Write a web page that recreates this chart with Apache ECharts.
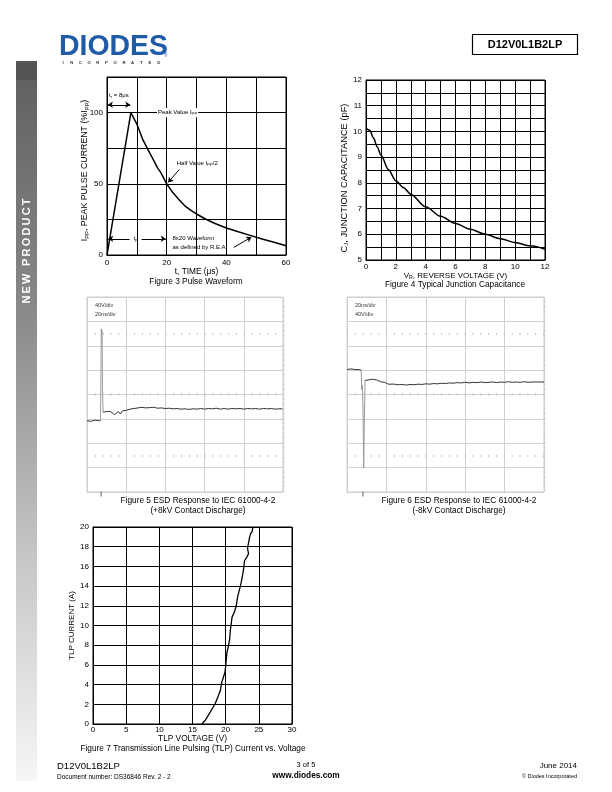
<!DOCTYPE html>
<html><head><meta charset="utf-8">
<script src="https://cdn.jsdelivr.net/npm/echarts@6/dist/echarts.min.js"></script>
<style>html,body{margin:0;padding:0;background:#fff}#c{width:612px;height:792px}</style>
</head><body><div id="c"></div>
<script>
// ---------- Figure 3: pulse waveform ----------
const pulseTime    = [0, 8, 9, 10, 11, 12, 13, 14, 15, 16, 17, 18, 19, 20, 22, 24, 26, 28, 30, 33, 36, 40, 44, 48, 52, 56, 60];
const pulseCurrent = [0, 100, 96, 92, 86.5, 81, 77, 73, 69, 65, 61, 58, 54, 50, 44, 39.2, 34.7, 31.5, 28.8, 25.3, 22.3, 19, 16.3, 13.8, 11.3, 9, 6.5];
const pulseXTicks  = [0, 20, 40, 60];
const pulseYTicks  = [0, 50, 100];
// ---------- Figure 4: junction capacitance ----------
const capVoltage = [0, 0.25, 0.5, 0.75, 1, 1.5, 2, 2.5, 3, 4, 5, 6, 7, 8, 9, 10, 11, 12];
const capValue   = [10.12, 10.05, 9.75, 9.4, 9.08, 8.52, 8.08, 7.82, 7.56, 7.07, 6.7, 6.42, 6.2, 6.0, 5.83, 5.68, 5.55, 5.42];
// ---------- Figure 5: ESD +8kV (ns, V) ----------
const esd5BaseT  = [0, 1, 2, 3, 4, 5, 6, 6.9];
const esd5BaseV  = [-3, -2, -4, -3, -2, -4, -3, -3];
const esd5SpikeT = [6.9, 7.1, 7.3, 7.5, 7.7, 7.9, 8.2];
const esd5SpikeV = [-3, 70, 148, 138, 145, 50, 11];
const esd5TailT  = [8.2, 9, 10, 11, 12, 13, 14, 15, 16, 17, 18, 19, 20, 21, 22, 23, 24, 25, 26, 27, 28,
  30, 32, 34, 36, 38, 40, 42, 44, 46, 48, 50, 52, 54, 56, 58, 60, 62, 64, 66, 68, 70, 72, 74, 76, 78, 80, 82, 84, 86, 88, 90, 92, 94, 96, 98, 100];
const esd5TailV  = [11, 13, 12, 9, 12, 9, 7, 10, 12, 8, 13, 11, 14, 13, 16, 14, 17, 16, 18, 17, 19,
  18, 18.5, 19, 17.5, 18, 17, 17.5, 16.5, 17, 16, 16.5, 15.5, 16.5, 16, 17, 16, 17, 16.5, 17.5, 16, 17, 16, 17, 16.5, 17, 16, 17, 16.5, 17, 16, 17, 16.5, 17, 16, 16.5, 16.5];
// ---------- Figure 6: ESD -8kV (ns, V) ----------
const esd6BaseT  = [0, 1, 2, 3, 4, 5, 6, 7.2];
const esd6BaseV  = [1, 0, 2, 0, 1, -1, 1, 0];
const esd6SpikeT = [7.2, 7.5, 7.8, 8.1, 8.5, 8.8, 9.2];
const esd6SpikeV = [0, -32, -25, -60, -160, -80, -17];
const esd6TailT  = [9.2, 10, 11, 12, 13, 14, 15, 16, 17, 18, 19, 20, 21, 22,
  24, 26, 28, 30, 32, 34, 36, 38, 40, 42, 44, 46, 48, 50, 52, 54, 56, 58, 60, 62, 64, 66, 68, 70, 72, 74, 76, 78, 80, 82, 84, 86, 88, 90, 92, 94, 96, 98, 100];
const esd6TailV  = [-17, -15, -16, -13, -15, -14, -16, -18, -19, -21, -20, -22, -23, -23.5,
  -23, -24, -23.5, -24.5, -23.5, -24, -23, -23.5, -22.5, -23, -22, -22.5, -21.5, -22, -21, -21.5, -20.5, -21, -20, -21,
  -20, -20.5, -19.5, -20.5, -20, -19.5, -20.5, -19.5, -20, -19, -20, -19.5, -20, -19, -20, -19.5, -19.5, -19.5, -19.5];
// ---------- Figure 7: TLP ----------
const tlpVoltage = [16.4, 16.9, 17.4, 18.1, 18.4, 18.8, 19.2, 19.4, 19.7, 19.9, 20.0, 20.1, 20.2, 20.45, 20.6, 20.7, 20.86, 20.96, 21.3, 21.6,
  21.8, 22.1, 22.3, 22.5, 22.7, 22.85, 23.2, 23.45, 23.3, 23.45, 23.6, 23.75, 24.0, 23.7, 24.1];
const tlpCurrent = [0, 0.35, 0.9, 1.7, 2.05, 2.7, 3.4, 4.2, 4.85, 5.25, 5.9, 6.6, 7.3, 8.0, 8.6, 9.5, 10.3, 10.85, 11.35, 12.0,
  12.9, 13.7, 14.25, 14.9, 15.75, 16.6, 16.95, 17.3, 17.8, 18.4, 18.95, 19.3, 19.55, 19.75, 20];

const FONT = "'Liberation Sans', Arial, Helvetica, sans-serif";
const zip = (a, b) => a.map((v, i) => [v, b[i]]);
const richSub = (fs) => ({
  a: {fontSize: fs, fontFamily: FONT, color: '#000'},
  s: {fontSize: fs * 0.65, fontFamily: FONT, color: '#000', padding: [fs * 0.45, 0, 0, 0]}
});

function blackX(grid, min, max, interval, labels, name, gap, nameSize, margin) {
  return {type: 'value', gridIndex: grid, min, max, interval,
    axisLine: {show: true, lineStyle: {color: '#000', width: 1}}, axisTick: {show: false},
    axisLabel: {color: '#000', fontSize: 8, fontFamily: FONT, margin: margin || 4,
      formatter: v => labels.indexOf(v) >= 0 ? String(v) : ''},
    splitLine: {show: true, lineStyle: {color: '#000', width: 1}},
    name, nameLocation: 'middle', nameGap: gap,
    nameTextStyle: {color: '#000', fontSize: nameSize, fontFamily: FONT, rich: richSub(nameSize)}};
}
function blackY(grid, min, max, interval, labels, name, gap, nameSize, shift) {
  return {type: 'value', gridIndex: grid, min, max, interval,
    axisLine: {show: true, lineStyle: {color: '#000', width: 1}}, axisTick: {show: false},
    axisLabel: {color: '#000', fontSize: 8, fontFamily: FONT, margin: 4,
      formatter: v => labels.indexOf(v) >= 0 ? String(v) : ''},
    splitLine: {show: true, lineStyle: {color: '#000', width: 1}},
    name, nameLocation: 'middle', nameGap: gap, nameMoveOverlap: false,
    nameTextStyle: {color: '#000', fontSize: nameSize, fontFamily: FONT, rich: richSub(nameSize),
      padding: [0, shift || 0, 0, 0]}};
}
function scopeX(grid) {
  return {type: 'value', gridIndex: grid, min: 0, max: 100, interval: 20,
    axisLine: {show: false}, axisTick: {show: false}, axisLabel: {show: false},
    splitLine: {show: true, lineStyle: {color: '#cfcfcf', width: 1}}};
}
function scopeY(grid, min, max) {
  return {type: 'value', gridIndex: grid, min, max, interval: 40,
    axisLine: {show: false}, axisTick: {show: false}, axisLabel: {show: false},
    splitLine: {show: true, lineStyle: {color: '#cfcfcf', width: 1}}};
}
function graticule(minY, maxY, centerY, trigT) {
  return {
    markLine: {silent: true, animation: false, symbol: ['none', 'none'], label: {show: false},
      lineStyle: {color: '#c2c2c2', width: 2, type: [1, 6.84]},
      data: [
        [{coord: [0, maxY - 60]}, {coord: [100, maxY - 60]}],
        [{coord: [0, minY + 60]}, {coord: [100, minY + 60]}],
        [{coord: [0, centerY], lineStyle: {color: '#cccccc', width: 3, type: [1, 6.84]}}, {coord: [100, centerY]}],
        [{coord: [100, minY], lineStyle: {color: '#d6d6d6', width: 3, type: [1, 3.87]}}, {coord: [100, maxY]}]
      ]},
    markPoint: {silent: true, animation: false, symbol: 'rect', symbolSize: [1, 5], symbolOffset: [0, 2],
      itemStyle: {color: '#666'}, label: {show: false},
      data: [{coord: [trigT, minY]}]}
  };
}
const lbl = (coord, text, pos, bg) => ({coord, symbol: 'rect', symbolSize: 1,
  itemStyle: {color: 'rgba(0,0,0,0)'},
  label: {show: true, position: pos || 'right', distance: 0, formatter: text, color: '#000',
    fontSize: 6, fontFamily: FONT, lineHeight: 9.4, backgroundColor: bg || 'transparent', padding: bg ? [0, 1, 0, 1] : 0,
    rich: {a: {fontSize: 6, fontFamily: FONT, color: '#000'}, s: {fontSize: 4.2, fontFamily: FONT, color: '#000', padding: [3, 0, 0, 0]}}}});

const option = {
  backgroundColor: '#fff',
  animation: false,
  textStyle: {fontFamily: FONT},
  grid: [
    {left: 107, top: 77, width: 179, height: 178, show: true, borderColor: '#000', borderWidth: 1},
    {left: 366, top: 80, width: 179, height: 180, show: true, borderColor: '#000', borderWidth: 1},
    {left: 87, top: 297, width: 196, height: 195, show: true, borderColor: '#cfcfcf', borderWidth: 1},
    {left: 347, top: 297, width: 197, height: 195, show: true, borderColor: '#cfcfcf', borderWidth: 1},
    {left: 93, top: 527, width: 199, height: 197, show: true, borderColor: '#000', borderWidth: 1}
  ],
  xAxis: [
    blackX(0, 0, 60, 10, pulseXTicks, 't, TIME (μs)', 13, 8.3),
    blackX(1, 0, 12, 1, [0, 2, 4, 6, 8, 10, 12], '{a|V}{s|R}{a|, REVERSE VOLTAGE (V)}', 8, 8, 3),
    scopeX(2), scopeX(3),
    blackX(4, 0, 30, 5, [0, 5, 10, 15, 20, 25, 30], 'TLP VOLTAGE (V)', 9.5, 8.3, 2)
  ],
  yAxis: [
    blackY(0, 0, 125, 25, pulseYTicks, '{a|I}{s|PP}{a|, PEAK PULSE CURRENT (%I}{s|PP}{a|)}', 17, 8.8, 9),
    blackY(1, 5, 12, 0.5, [5, 6, 7, 8, 9, 10, 11, 12], '{a|C}{s|J}{a|, JUNCTION CAPACITANCE (pF)}', 16.5, 9.3, 16),
    scopeY(2, -120, 200), scopeY(3, -200, 120),
    blackY(4, 0, 20, 2, [0, 2, 4, 6, 8, 10, 12, 14, 16, 18, 20], 'TLP CURRENT (A)', 17, 8, 0)
  ],
  series: [
    {type: 'line', xAxisIndex: 0, yAxisIndex: 0, data: zip(pulseTime, pulseCurrent), symbol: 'none',
      lineStyle: {color: '#000', width: 1.5},
      markLine: {silent: true, animation: false, symbol: ['none', 'none'], symbolSize: 5, label: {show: false},
        lineStyle: {color: '#000', width: 1, type: 'solid'},
        data: [
          [{coord: [0.3, 105.5], symbol: 'arrow'}, {coord: [7.8, 105.5], symbol: 'arrow'}],
          [{coord: [8, 100]}, {coord: [16.2, 100]}],
          [{coord: [24.2, 60]}, {coord: [20.5, 51], symbol: 'arrow'}],
          [{coord: [0.4, 11.4], symbol: 'arrow'}, {coord: [7.6, 11.4]}],
          [{coord: [11.6, 11.4]}, {coord: [19.7, 11.4], symbol: 'arrow'}],
          [{coord: [42.5, 5.3], lineStyle: {curveness: 0.35}}, {coord: [48.4, 12.6], symbol: 'arrow'}]
        ]},
      markPoint: {silent: true, animation: false,
        data: [
          lbl([0.5, 112], '{a|t}{s|r}{a| = 8μs}'),
          lbl([16.6, 100], '{a|Peak Value I}{s|PP}', 'right', '#fff'),
          lbl([23.2, 64.5], '{a|Half Value I}{s|PP}{a|/2}'),
          lbl([9.6, 11.4], '{a|t}{s|p}', 'inside'),
          lbl([21.8, 8.5], '8x20 Waveform\nas defined by R.E.A.')
        ]}},
    {type: 'line', xAxisIndex: 1, yAxisIndex: 1, data: zip(capVoltage, capValue), symbol: 'none', smooth: 0.3, smoothMonotone: 'x',
      lineStyle: {color: '#000', width: 1.5}},
    Object.assign({type: 'line', xAxisIndex: 2, yAxisIndex: 2, data: zip(esd5BaseT, esd5BaseV), symbol: 'none',
      lineStyle: {color: '#333', width: 1}}, graticule(-120, 200, 40, 7.2)),
    {type: 'line', xAxisIndex: 2, yAxisIndex: 2, data: zip(esd5SpikeT, esd5SpikeV), symbol: 'none',
      lineStyle: {color: '#9a9a9a', width: 1}},
    {type: 'line', xAxisIndex: 2, yAxisIndex: 2, data: zip(esd5TailT, esd5TailV), symbol: 'none',
      lineStyle: {color: '#333', width: 1}},
    Object.assign({type: 'line', xAxisIndex: 3, yAxisIndex: 3, data: zip(esd6BaseT, esd6BaseV), symbol: 'none',
      lineStyle: {color: '#333', width: 1}}, graticule(-200, 120, -40, 8.1)),
    {type: 'line', xAxisIndex: 3, yAxisIndex: 3, data: zip(esd6SpikeT, esd6SpikeV), symbol: 'none',
      lineStyle: {color: '#9a9a9a', width: 1}},
    {type: 'line', xAxisIndex: 3, yAxisIndex: 3, data: zip(esd6TailT, esd6TailV), symbol: 'none',
      lineStyle: {color: '#333', width: 1}},
    {type: 'line', xAxisIndex: 4, yAxisIndex: 4, data: zip(tlpVoltage, tlpCurrent), symbol: 'none',
      lineStyle: {color: '#000', width: 1.3}}
  ],
  graphic: []
};

const G = option.graphic;
function txt(x, y, text, size, opts) {
  opts = opts || {};
  G.push({type: 'text', x, y, rotation: opts.rot || 0, silent: true,
    style: {text, fill: opts.color || '#000', font: (opts.weight || 'normal') + ' ' + size + 'px ' + FONT,
      fontSize: size, fontFamily: FONT, fontWeight: opts.weight || 'normal',
      align: opts.align || 'left', textAlign: opts.align || 'left',
      verticalAlign: 'middle', textVerticalAlign: 'middle'}});
}
// sidebar
G.push({type: 'rect', silent: true, shape: {x: 16, y: 61, width: 21, height: 720},
  style: {fill: new echarts.graphic.LinearGradient(0, 0, 0, 1, [
    {offset: 0, color: '#5e5e5e'}, {offset: 0.35, color: '#8a8a8a'}, {offset: 0.7, color: '#c8c8c8'}, {offset: 1, color: '#f6f6f6'}])}});
G.push({type: 'rect', silent: true, shape: {x: 16, y: 61, width: 21, height: 19}, style: {fill: '#555'}});
txt(27, 251, 'N\u2009E\u2009W\u2009 \u2009P\u2009R\u2009O\u2009D\u2009U\u2009C\u2009T', 11, {rot: Math.PI / 2, align: 'center', weight: 'bold', color: '#fff'});
// logo
G.push({type: 'text', x: 59, y: 47, scaleX: 0.98, silent: true,
  style: {text: 'DIODES', fill: '#1f5ba6', font: 'bold 29px ' + FONT, fontSize: 29, fontWeight: 'bold', fontFamily: FONT,
    align: 'left', textAlign: 'left', verticalAlign: 'middle', textVerticalAlign: 'middle'}});
txt(164, 56, '®', 4.5, {color: '#1f5ba6'});
'INCORPORATED'.split('').forEach((ch, i) => txt(63 + i * 8.7, 62.5, ch, 4.2, {weight: 'bold', color: '#333', align: 'center'}));
// part number box
G.push({type: 'rect', silent: true, shape: {x: 472.5, y: 34.5, width: 105, height: 20}, style: {fill: 'none', stroke: '#000', lineWidth: 1.2}});
txt(525, 44.5, 'D12V0L1B2LP', 11, {align: 'center', weight: 'bold'});
// captions
txt(196, 282, 'Figure 3 Pulse Waveform', 8.3, {align: 'center'});
txt(455, 285, 'Figure 4 Typical Junction Capacitance', 8.3, {align: 'center'});
txt(198, 500.5, 'Figure 5 ESD Response to IEC 61000-4-2', 8.3, {align: 'center'});
txt(198, 510.5, '(+8kV Contact Discharge)', 8.3, {align: 'center'});
txt(459, 500.5, 'Figure 6 ESD Response to IEC 61000-4-2', 8.3, {align: 'center'});
txt(459, 510.5, '(-8kV Contact Discharge)', 8.3, {align: 'center'});
txt(193, 748.5, 'Figure 7 Transmission Line Pulsing (TLP) Current vs. Voltage', 8.3, {align: 'center'});
// scope scale texts
txt(95, 305, '40V/div', 5.5, {color: '#333'});
txt(95, 314, '20ns/div', 5.5, {color: '#333'});
txt(355, 305, '20ns/div', 5.5, {color: '#333'});
txt(355, 314, '40V/div', 5.5, {color: '#333'});
// footer
txt(57, 766, 'D12V0L1B2LP', 9.5);
txt(57, 777, 'Document number: DS36846 Rev. 2 - 2', 6.5);
txt(306, 765, '3 of 5', 7.5, {align: 'center'});
txt(306, 776, 'www.diodes.com', 8.3, {align: 'center', weight: 'bold'});
txt(577, 766, 'June 2014', 8, {align: 'right'});
txt(577, 776.5, '© Diodes Incorporated', 5.5, {align: 'right'});

const chart = echarts.init(document.getElementById('c'), null, {renderer: 'canvas', width: 612, height: 792});
chart.setOption(option);
</script></body></html>
